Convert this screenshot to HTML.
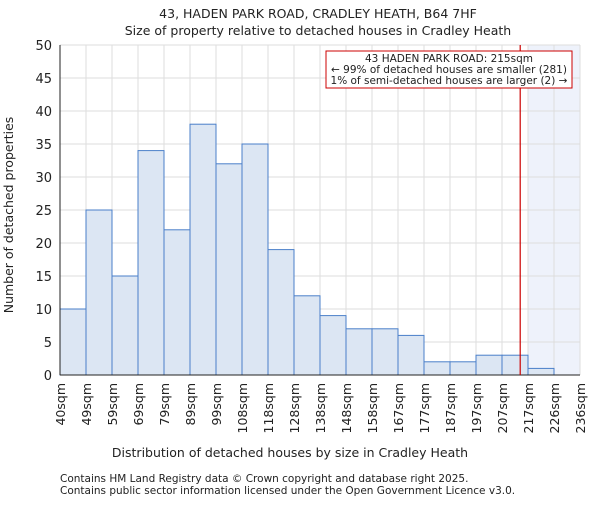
<!DOCTYPE html>
<html><head><meta charset="utf-8"><style>
body{margin:0;background:#fff}
text{font-family:"DejaVu Sans","Liberation Sans",sans-serif;fill:#222}
</style></head><body>
<svg id="c" width="600" height="500" xmlns="http://www.w3.org/2000/svg">
<text x="318" y="18" font-size="12.5" text-anchor="middle">43, HADEN PARK ROAD, CRADLEY HEATH, B64 7HF</text>
<text x="318" y="35" font-size="12.5" text-anchor="middle">Size of property relative to detached houses in Cradley Heath</text>
<g id="grid"></g><g id="bars"></g><g id="axes"></g>
<text x="290" y="457" font-size="12.5" text-anchor="middle">Distribution of detached houses by size in Cradley Heath</text>
<text transform="translate(13,215) rotate(-90)" font-size="12.5" text-anchor="middle">Number of detached properties</text>
<text x="60" y="482" font-size="10.5">Contains HM Land Registry data © Crown copyright and database right 2025.</text>
<text x="60" y="494" font-size="10.5">Contains public sector information licensed under the Open Government Licence v3.0.</text>
</svg>
<script>
const tickLabels=["40sqm","49sqm","59sqm","69sqm","79sqm","89sqm","99sqm","108sqm","118sqm","128sqm","138sqm","148sqm","158sqm","167sqm","177sqm","187sqm","197sqm","207sqm","217sqm","226sqm","236sqm"];
const counts=[10,25,15,34,22,38,32,35,19,12,9,7,7,6,2,2,3,3,1,0];
const yTicks=[0,5,10,15,20,25,30,35,40,45,50];
const markerBin=17.7;
const shadeBin=18;
const NS="http://www.w3.org/2000/svg";
const L=60,R=580,T=45,B=375,n=counts.length;
const x=i=>L+(R-L)*i/n;
const y=v=>B-(B-T)*v/50;
function mk(t,a,p){const e=document.createElementNS(NS,t);for(const k in a)e.setAttribute(k,a[k]);p.appendChild(e);return e;}
const g=document.getElementById('grid'),b=document.getElementById('bars'),ax=document.getElementById('axes');
const sh=mk('rect',{x:x(shadeBin),y:T,width:R-x(shadeBin),height:B-T,fill:'#eef2fb'},g);


for(let i=0;i<=n;i++){mk('line',{x1:x(i),x2:x(i),y1:T,y2:B,stroke:'#ddd'},g);}
yTicks.forEach(v=>{mk('line',{x1:L,x2:R,y1:y(v),y2:y(v),stroke:'#ddd'},g);
const t=mk('text',{x:L-8,y:y(v)+5,'font-size':13,'text-anchor':'end'},ax);t.textContent=v;

});
counts.forEach((c,i)=>{const r=mk('rect',{x:x(i),y:y(c),width:x(i+1)-x(i),height:B-y(c),fill:'#dce6f3',stroke:'#4a7fc9','stroke-width':1},b);

});
tickLabels.forEach((s,i)=>{const t=mk('text',{transform:`translate(${x(i)+5},${B+8}) rotate(-90)`,'font-size':12.5,'text-anchor':'end'},ax);t.textContent=s;

});
mk('line',{x1:L,x2:L,y1:T,y2:B,stroke:'#222'},ax);mk('line',{x1:L,x2:R,y1:B,y2:B,stroke:'#222'},ax);
const ml=mk('line',{x1:x(markerBin),x2:x(markerBin),y1:T,y2:B,stroke:'#cc0000','stroke-width':1.2},ax);


const box=mk('rect',{x:326,y:51,width:246,height:37,fill:'#fff',stroke:'#cc0000'},ax);


["43 HADEN PARK ROAD: 215sqm","← 99% of detached houses are smaller (281)","1% of semi-detached houses are larger (2) →"].forEach((s,i)=>{const t=mk('text',{x:449,y:62+i*11,'font-size':10.5,'text-anchor':'middle'},ax);t.textContent=s;

});
</script>
</body></html>
